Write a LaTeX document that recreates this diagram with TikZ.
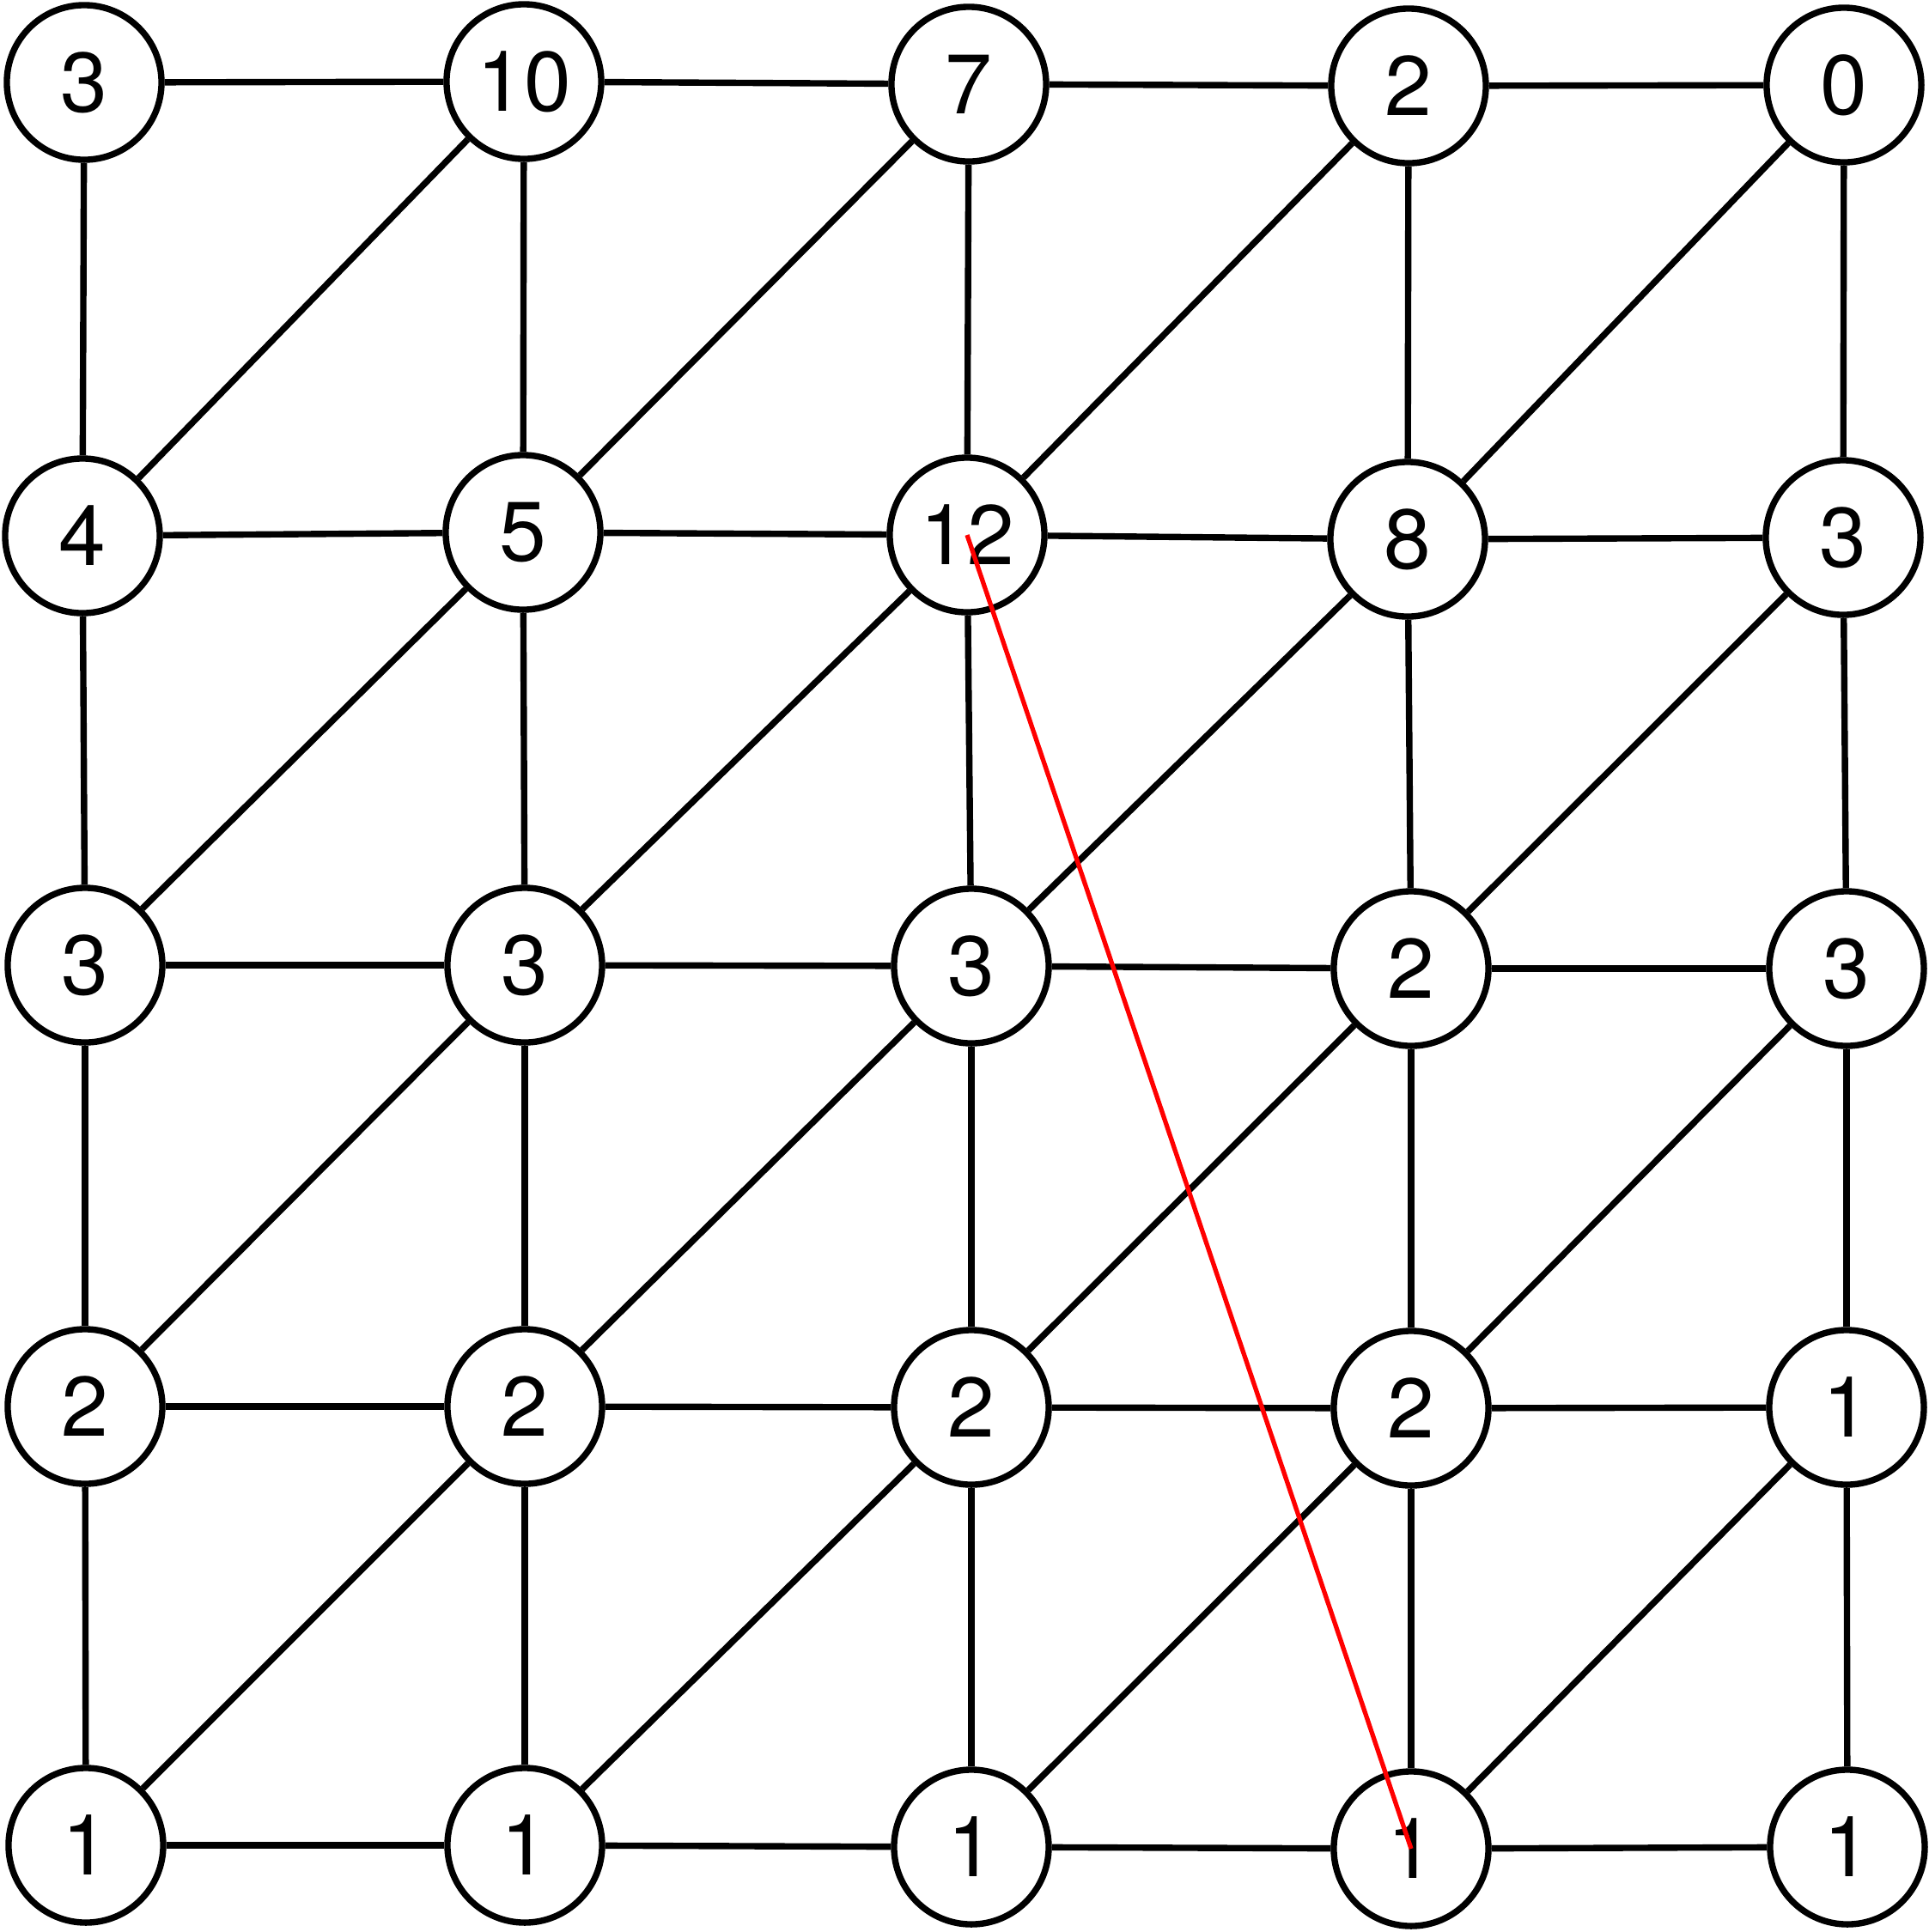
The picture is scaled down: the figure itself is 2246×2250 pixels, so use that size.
\documentclass[tikz,border=0pt]{standalone}
\usepackage{fontspec}
\setmainfont{TeX Gyre Heros}
\usetikzlibrary{positioning}
\tikzset{
    vertex/.style={
        circle,
        line width=2.1pt,
        draw=black,
        fill=white,
        inner sep=0pt,
        minimum size=1.8cm,
        font=\fontsize{28}{32}\selectfont,
    },
    link/.style={
        line width=2.1pt,
    },
}

\begin{document}
\begin{tikzpicture}[x=0.01cm, y=-0.01cm]
      \useasboundingbox (0,0) rectangle (2246,2250);

      % row 0
      \node[vertex] (v00) at (98,96) {3};
      \node[vertex] (v01) at (610,95) {10};
      \node[vertex] (v02) at (1128,98) {7};
      \node[vertex] (v03) at (1640,100) {2};
      \node[vertex] (v04) at (2147,99) {0};

      % row 1
      \node[vertex] (v10) at (96,624) {4};
      \node[vertex] (v11) at (609,620) {5};
      \node[vertex] (v12) at (1126,623) {12};
      \node[vertex] (v13) at (1639,628) {8};
      \node[vertex] (v14) at (2146,626) {3};

      % row 2
      \node[vertex] (v20) at (99,1124) {3};
      \node[vertex] (v21) at (611,1124) {3};
      \node[vertex] (v22) at (1131,1125) {3};
      \node[vertex] (v23) at (1643,1128) {2};
      \node[vertex] (v24) at (2150,1128) {3};

      % row 3
      \node[vertex] (v30) at (99,1638) {2};
      \node[vertex] (v31) at (611,1638) {2};
      \node[vertex] (v32) at (1131,1639) {2};
      \node[vertex] (v33) at (1643,1640) {2};
      \node[vertex] (v34) at (2150,1639) {1};

      % row 4
      \node[vertex] (v40) at (100,2149) {1};
      \node[vertex] (v41) at (611,2149) {1};
      \node[vertex] (v42) at (1131,2151) {1};
      \node[vertex] (v43) at (1643,2153) {1};
      \node[vertex] (v44) at (2151,2151) {1};

      % horizontal links
      \foreach \r in {0,...,4}
        \foreach \c/\d in {0/1,1/2,2/3,3/4}
          \draw[link] (v\r\c) -- (v\r\d);

      % vertical links
      \foreach \c in {0,...,4}
        \foreach \r/\s in {0/1,1/2,2/3,3/4}
          \draw[link] (v\r\c) -- (v\s\c);

      % diagonal links
      \foreach \r/\s in {0/1,1/2,2/3,3/4}
        \foreach \c/\d in {0/1,1/2,2/3,3/4}
          \draw[link] (v\s\c) -- (v\r\d);

      \draw[red, line width=1.5pt] (v12.center) -- (v43.center);
    \end{tikzpicture}
\end{document}
